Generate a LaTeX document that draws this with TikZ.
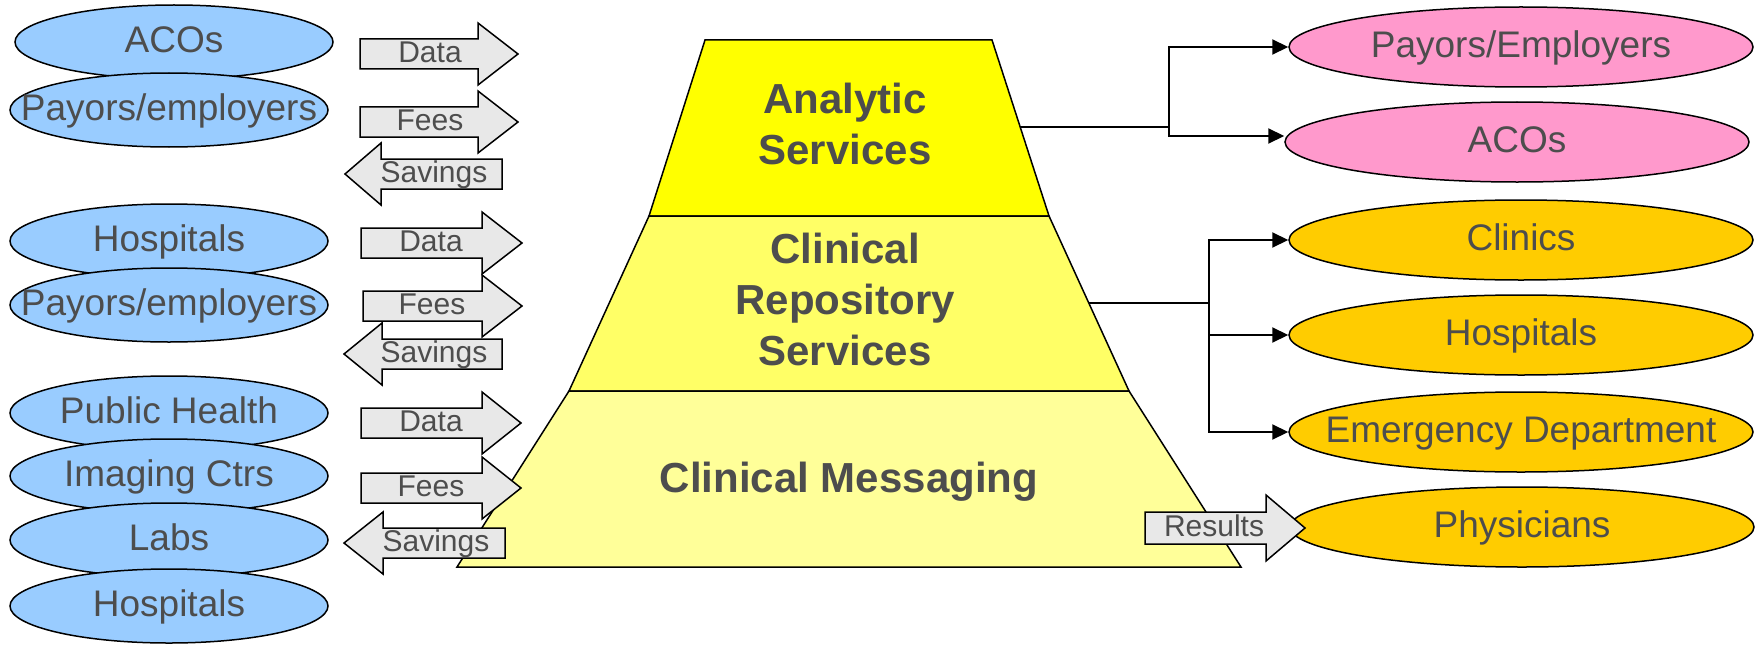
\documentclass[tikz,border=0pt]{standalone}
\usepackage{fontspec}
\setmainfont{Liberation Sans}
\usetikzlibrary{shapes.geometric,arrows.meta,calc}
\definecolor{lblue}{HTML}{99CCFF}
\definecolor{rpink}{HTML}{FF99CC}
\definecolor{rorange}{HTML}{FFCC00}
\definecolor{pyrA}{HTML}{FFFF00}
\definecolor{pyrB}{HTML}{FFFF66}
\definecolor{pyrC}{HTML}{FFFF99}
\definecolor{tgray}{HTML}{4D4D4D}
\definecolor{agray}{HTML}{E8E8E8}
\newcommand\myrarrow[4]{\filldraw[arrbox] (#1,#4-15) -- (#2,#4-15) -- (#2,#4-31) -- (#3,#4) -- (#2,#4+31) -- (#2,#4+15) -- (#1,#4+15) -- cycle;}
\newcommand\mylarrow[4]{\filldraw[arrbox] (#1,#4) -- (#2,#4-31) -- (#2,#4-15) -- (#3,#4-15) -- (#3,#4+15) -- (#2,#4+15) -- (#2,#4+31) -- cycle;}
\newcommand\mkctr[1]{\makebox[0pt]{#1}}
\begin{document}
\begin{tikzpicture}[x=0.5pt,y=-0.5pt,
  lell/.style={ellipse, draw=black, line width=0.75pt, fill=lblue, minimum width=159pt, minimum height=37pt, inner sep=0pt, text=tgray, font=\fontsize{18.5}{22}\selectfont, text height=13.2pt, text depth=3pt},
  rell/.style={ellipse, draw=black, line width=0.75pt, minimum width=232pt, minimum height=40pt, inner sep=0pt, text=tgray, font=\fontsize{18.5}{22}\selectfont, text height=13.2pt, text depth=3pt},
  arrbox/.style={fill=agray, draw=black, line width=0.75pt, line join=miter},
  atext/.style={inner sep=0pt, text=tgray, font=\fontsize{15}{18}\selectfont, text height=10.7pt, text depth=1pt},
  ptext/.style={inner sep=0pt, text=tgray, font=\bfseries\fontsize{21}{25.5}\selectfont, align=center},
  pyr/.style={draw=black, line width=0.75pt, line join=miter},
  line/.style={draw=black, line width=1pt},
  conn/.style={draw=black, line width=1pt, -{Triangle[length=8pt,width=7.5pt]}}
]
\useasboundingbox (0,0) rectangle (1764,647);

% pyramid
\filldraw[pyr, fill=pyrA] (705,40) -- (992,40) -- (1049,216) -- (649,216) -- cycle;
\filldraw[pyr, fill=pyrB] (649,216) -- (1049,216) -- (1129,391) -- (569,391) -- cycle;
\filldraw[pyr, fill=pyrC] (569,391) -- (1129,391) -- (1241,567) -- (457,567) -- cycle;
\node[ptext] (an) at (845,123.5) {Analytic\\Services};
\node[ptext] (cr) at (845,299.5) {Clinical\\Repository\\Services};
\node[ptext, text height=15pt, text depth=0pt] (cm) at (849,477) {Clinical Messaging};

% left ellipses
\node[lell] (l1) at (174,42) {\mkctr{ACOs}};
\node[lell] (l2) at (169,110) {\mkctr{Payors/employers}};
\node[lell] (l3) at (169,241) {\mkctr{Hospitals}};
\node[lell] (l4) at (169,305) {\mkctr{Payors/employers}};
\node[lell] (l5) at (169,413) {\mkctr{Public Health}};
\node[lell] (l6) at (169,476) {\mkctr{Imaging Ctrs}};
\node[lell] (l7) at (169,540) {\mkctr{Labs}};
\node[lell] (l8) at (169,606) {\mkctr{Hospitals}};

% left arrows, group 1
\myrarrow{360}{478}{518}{54}
\node[atext] (d1) at (430,53) {Data};
\myrarrow{360}{478}{518}{122}
\node[atext] (f1) at (430,121) {Fees};
\mylarrow{345}{381}{502}{174}
\node[atext] (s1) at (434,173) {Savings};
% group 2
\myrarrow{361}{482}{522}{243}
\node[atext] (d2) at (431,242) {Data};
\myrarrow{363}{482}{522}{306}
\node[atext] (f2) at (432,305) {Fees};
\mylarrow{344}{382}{502}{354}
\node[atext] (s2) at (434,353) {Savings};
% group 3
\myrarrow{361}{482}{521}{423}
\node[atext] (d3) at (431,422) {Data};
\myrarrow{361}{482}{521}{488}
\node[atext] (f3) at (431,487) {Fees};
\mylarrow{344}{383}{505}{543}
\node[atext] (s3) at (436,542) {Savings};

% right ellipses
\node[rell, fill=rpink] (rpe) at (1521,47) {\mkctr{Payors/Employers}};
\node[rell, fill=rpink] (raco) at (1517,142) {\mkctr{ACOs}};
\node[rell, fill=rorange] (rcl) at (1521,240) {\mkctr{Clinics}};
\node[rell, fill=rorange] (rho) at (1521,335) {\mkctr{Hospitals}};
\node[rell, fill=rorange] (red) at (1521,432) {\mkctr{Emergency Department}};
\node[rell, fill=rorange] (rph) at (1522,527) {\mkctr{Physicians}};

% connectors
\coordinate (aedge) at (1020,127);
\coordinate (aj) at (1169,127);
\draw[line] (aedge) -- (aj);
\draw[conn] (aj) |- (rpe.west);
\draw[conn] (aj) |- ([yshift=3pt]raco.west);
\coordinate (redge) at (1089,303);
\coordinate (rj) at (1209,303);
\draw[line] (redge) -- (rj);
\draw[conn] (rj) |- (rcl.west);
\draw[conn] (rj) |- (rho.west);
\draw[conn] (rj) |- (red.west);

% results arrow
\filldraw[arrbox] (1145,512) -- (1266,512) -- (1266,495) -- (1305,528) -- (1266,561) -- (1266,544) -- (1145,544) -- cycle;
\node[atext] (res) at (1214,527) {Results};
\end{tikzpicture}
\end{document}
